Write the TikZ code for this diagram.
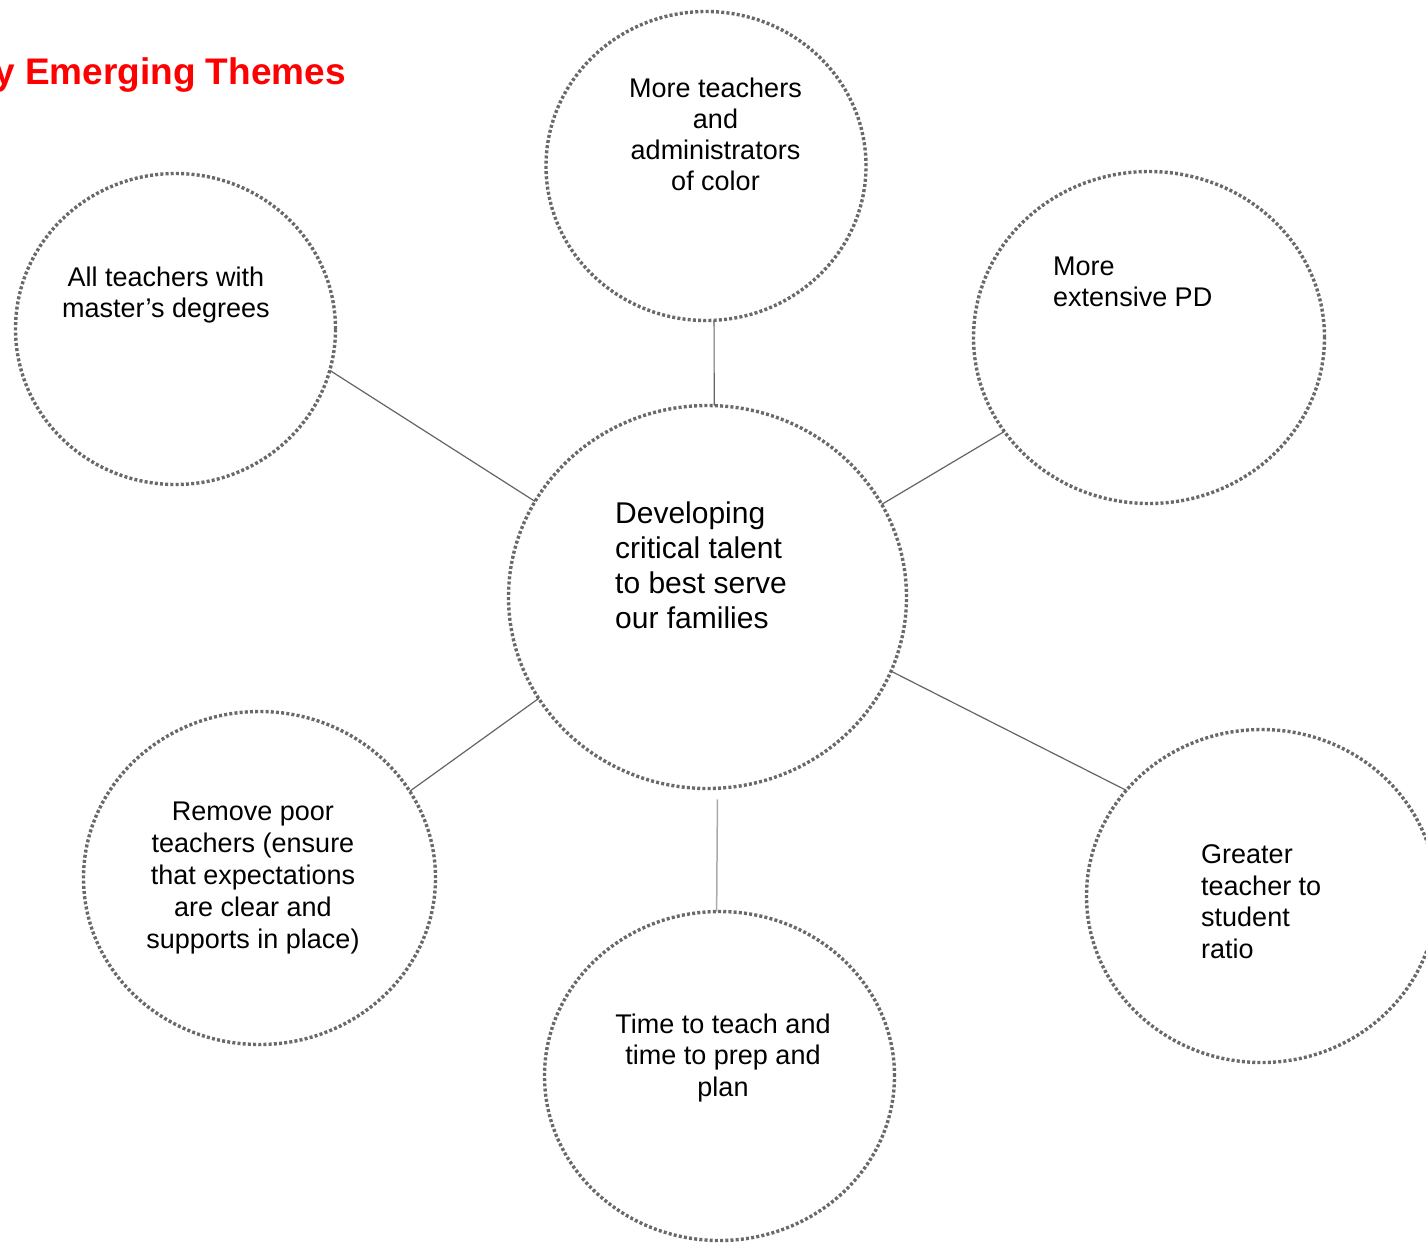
\documentclass[tikz,border=0pt]{standalone}
\usepackage{fontspec}
\setmainfont{Liberation Sans}
\usetikzlibrary{shapes.geometric}
\definecolor{dotgray}{RGB}{105,105,105}
\definecolor{linegray}{RGB}{100,100,100}
\definecolor{lightline}{RGB}{170,170,170}
\definecolor{titlered}{RGB}{255,0,0}
\begin{document}
\begin{tikzpicture}[x=1pt,y=1pt,
  bubble/.style={ellipse, draw=dotgray, line width=3.4pt, dash pattern=on 3pt off 2.2pt, inner sep=0pt, outer sep=0pt},
  link/.style={draw=linegray, line width=1.2pt},
  lbl/.style={font=\fontsize{27}{31.5}\selectfont, inner sep=0pt, anchor=base, align=center},
]
\useasboundingbox (0,0) rectangle (1426,-1243);
% bubbles
\node[bubble, minimum width=320pt, minimum height=309pt] (T)  at (706,-166) {};
\node[bubble, minimum width=320pt, minimum height=311pt] (LT) at (175.5,-329) {};
\node[bubble, minimum width=351pt, minimum height=332pt] (RT) at (1149,-337.5) {};
\node[bubble, minimum width=398pt, minimum height=383pt] (C)  at (707.5,-597) {};
\node[bubble, minimum width=352pt, minimum height=333pt] (LB) at (259.5,-878) {};
\node[bubble, minimum width=350pt, minimum height=329pt] (B)  at (719.5,-1076) {};
\node[bubble, minimum width=350pt, minimum height=333pt] (RB) at (1261.5,-896) {};
% title
\node[font=\fontsize{37}{41}\selectfont\bfseries, text=titlered, anchor=base west, inner sep=0pt] (title) at (-6,-84) {y Emerging Themes};
% texts (base anchor = baseline of the last line)
\node[lbl, font=\fontsize{27}{31}\selectfont] (tT) at (715.5,-190) {More teachers\\and\\administrators\\of color};
\node[lbl, font=\fontsize{27}{31}\selectfont] (tLT) at (166,-317) {All teachers with\\master’s degrees};
\node[lbl, font=\fontsize{27}{31}\selectfont, anchor=base west, align=left] (tRT) at (1053,-306) {More\\extensive PD};
\node[lbl, font=\fontsize{30}{35}\selectfont, anchor=base west, align=left] (tC) at (615,-628) {Developing\\critical talent\\to best serve\\our families};
\node[lbl, font=\fontsize{27}{32}\selectfont] (tLB) at (253,-948) {Remove poor\\teachers (ensure\\that expectations\\are clear and\\supports in place)};
\node[lbl] (tB) at (723,-1096) {Time to teach and\\time to prep and\\plan};
\node[lbl, anchor=base west, align=left] (tRB) at (1201,-958) {Greater\\teacher to\\student\\ratio};
% connectors
\draw[link] (T.-87.4) -- (C.88.4);
\draw[link] (LT.-15) -- (C.151.6);
\draw[link] (RT.213.3) -- (C.28.2);
\draw[link] (LB.30.3) -- (C.211.1);
\draw[link, draw=lightline, line width=1.5pt, shorten >=11pt] (B.91.3) -- (C.-87.5);
\draw[link] (RB.142.6) -- (C.-22);
\end{tikzpicture}
\end{document}
